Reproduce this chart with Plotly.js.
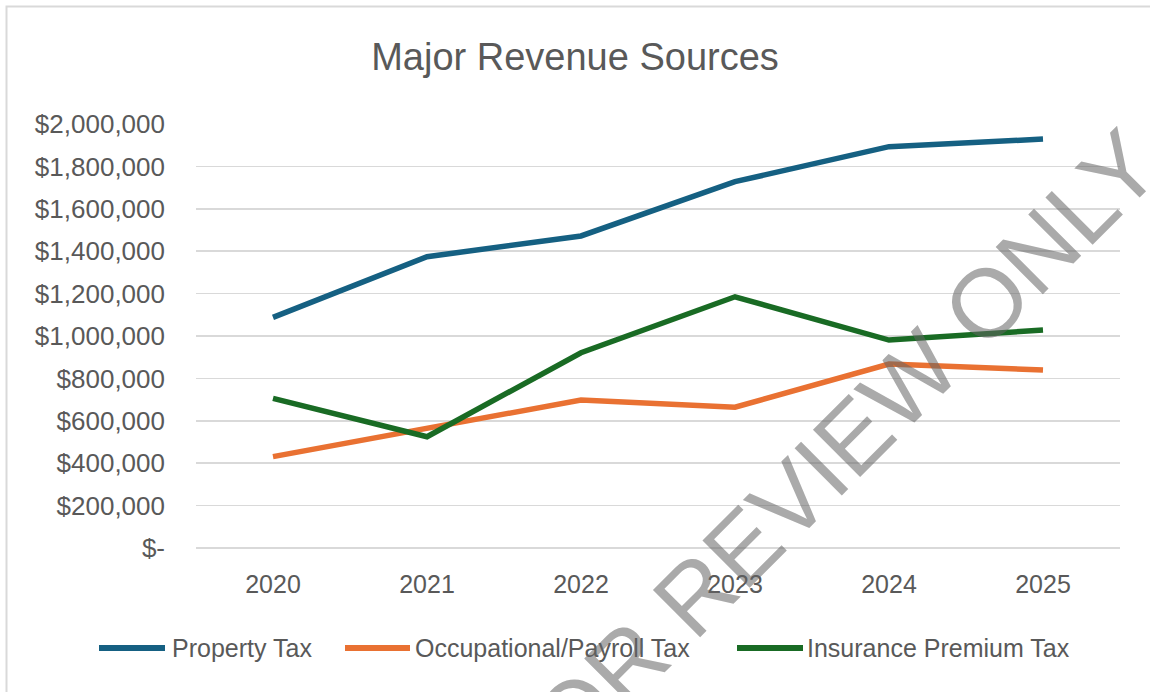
<!DOCTYPE html>
<html>
<head>
<meta charset="utf-8">
<script src="https://cdn.plot.ly/plotly-3.0.1.min.js"></script>
<style>
  html, body { margin: 0; padding: 0; background: #ffffff; }
  #chart { width: 1150px; height: 692px; }
</style>
</head>
<body>
<div id="chart"></div>
<script>
// ---- data ----
const years = ["2020", "2021", "2022", "2023", "2024", "2025"];
const propertyTax = [1088000, 1374000, 1472000, 1728000, 1893000, 1929000];
const occupationalPayrollTax = [431000, 565000, 698000, 664000, 868000, 840000];
const insurancePremiumTax = [706000, 525000, 921000, 1185000, 981000, 1028000];
const seriesNames = ["Property Tax", "Occupational/Payroll Tax", "Insurance Premium Tax"];
const yTickValues = [0, 200000, 400000, 600000, 800000, 1000000, 1200000, 1400000, 1600000, 1800000, 2000000];
const yTickLabels = ["$-", "$200,000", "$400,000", "$600,000", "$800,000", "$1,000,000",
                     "$1,200,000", "$1,400,000", "$1,600,000", "$1,800,000", "$2,000,000"];
const chartTitle = "Major Revenue Sources";
const watermarkText = "FOR REVIEW ONLY";

// ---- styling / layout geometry ----
const colors = ["#156082", "#E97132", "#196B24"];
const FONT = "Liberation Sans, Arial, sans-serif";
const TXT = "#595959";
const PL = 196, PR = 1120, PT = 124, PB = 548;   // plot area in pixels
const PW = PR - PL, PH = PB - PT;
const px = v => (v - PL) / PW;        // pixel x -> paper x
const py = v => (PB - v) / PH;        // pixel y -> paper y

const seriesValues = [propertyTax, occupationalPayrollTax, insurancePremiumTax];
const traces = seriesValues.map((vals, i) => ({
  type: "scatter",
  mode: "lines",
  name: seriesNames[i],
  x: years,
  y: vals,
  line: { color: colors[i], width: 5.5, shape: "linear" },
  showlegend: false,
  hoverinfo: "x+y+name"
}));

// legend drawn as line swatches + text (longer swatches than Plotly's native legend)
const legendY = 648;
const legendLineX = [[99, 165], [345, 410], [737, 803]];
const legendTextX = [170, 413, 805];

const shapes = [
  {
    type: "rect", xref: "paper", yref: "paper", layer: "below",
    x0: px(6.5), x1: px(1165), y0: py(710), y1: py(6.5),
    line: { color: "#d9d9d9", width: 2 },
    fillcolor: "rgba(0,0,0,0)"
  }
];
const annotations = [];
seriesNames.forEach((name, i) => {
  shapes.push({
    type: "line", xref: "paper", yref: "paper",
    x0: px(legendLineX[i][0]), x1: px(legendLineX[i][1]),
    y0: py(legendY), y1: py(legendY),
    line: { color: colors[i], width: 6 }
  });
  annotations.push({
    text: name, xref: "paper", yref: "paper",
    x: px(legendTextX[i]), y: py(legendY),
    xanchor: "left", yanchor: "middle", showarrow: false,
    font: { family: FONT, size: 25, color: TXT }
  });
});
annotations.push({
  text: watermarkText,
  xref: "paper", yref: "paper",
  x: px(824), y: py(465),
  xanchor: "center", yanchor: "middle",
  showarrow: false,
  textangle: -45,
  font: { family: FONT, size: 97, color: "rgba(100,100,100,0.55)" }
});

const layout = {
  width: 1150,
  height: 692,
  margin: { l: PL, r: 1150 - PR, t: PT, b: 692 - PB },
  paper_bgcolor: "#ffffff",
  plot_bgcolor: "#ffffff",
  font: { family: FONT, color: TXT },
  title: {
    text: chartTitle,
    font: { family: FONT, size: 38, color: TXT },
    x: 0.5, xref: "container", xanchor: "center",
    y: 1 - 57 / 692, yref: "container", yanchor: "middle"
  },
  xaxis: {
    type: "category",
    range: [-0.5, 5.5],
    showgrid: false,
    zeroline: false,
    showline: false,
    ticks: "",
    ticklabelstandoff: 19,
    tickfont: { family: FONT, size: 25, color: TXT },
    fixedrange: true
  },
  yaxis: {
    range: [0, 2000000],
    tickvals: yTickValues,
    ticktext: yTickLabels,
    showgrid: true,
    gridcolor: "#d9d9d9",
    gridwidth: 1.6,
    zeroline: true,
    zerolinecolor: "#d9d9d9",
    zerolinewidth: 1.6,
    showline: false,
    ticks: "",
    ticklabelstandoff: 30,
    tickfont: { family: FONT, size: 26, color: TXT },
    fixedrange: true
  },
  showlegend: false,
  shapes: shapes,
  annotations: annotations
};

Plotly.newPlot("chart", traces, layout, { displayModeBar: false, staticPlot: true });
</script>
</body>
</html>
